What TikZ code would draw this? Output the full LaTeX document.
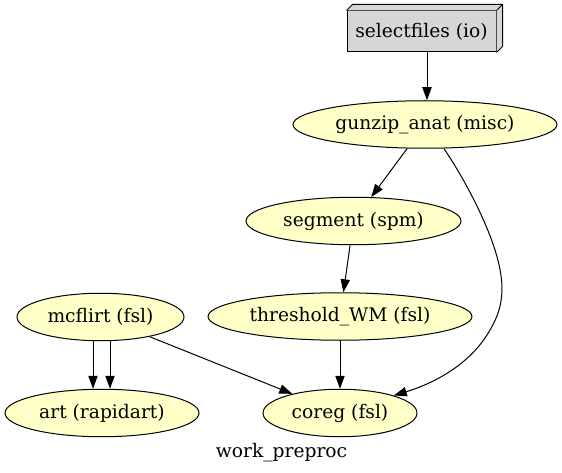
\documentclass[tikz,border=0pt]{standalone}
\usepackage{fontspec}
\setmainfont{DejaVu Serif}
\usetikzlibrary{shapes.geometric,arrows.meta,calc}
\definecolor{nodefill}{HTML}{FFFFC8}
\definecolor{boxfill}{HTML}{D6D6D6}
\tikzset{
  lbl/.style={font=\fontsize{18.67}{22}\selectfont},
  proc/.style={ellipse, draw, fill=nodefill, inner sep=0pt, line width=1pt, minimum height=47.5pt, lbl},
  iobox/.style={rectangle, draw, fill=boxfill, inner sep=0pt, line width=1pt, minimum height=41pt, lbl},
  arr/.style={-{Triangle[length=13pt,width=9.3pt]}, line width=1pt},
}
\begin{document}
\begin{tikzpicture}[x=1pt,y=-1pt]
\useasboundingbox (0,0) rectangle (562,473);
\node[iobox, minimum width=149pt] (sel) at (421.5,31.5) {selectfiles (io)};
\fill[boxfill] (sel.north west) -- ++(6,-6) -- ($(sel.north east)+(6,-6)$) -- ($(sel.south east)+(6,-6)$) -- (sel.south east) -- (sel.north east) -- cycle;
\draw[line width=1pt, line join=round] (sel.north west) -- ++(6,-6) -- ($(sel.north east)+(6,-6)$) -- ($(sel.south east)+(6,-6)$) -- (sel.south east);
\draw[line width=1pt] (sel.north east) -- ++(6,-6);
\node[proc, minimum width=264pt] (gun) at (425,124.5) {gunzip\_anat (misc)};
\node[proc, minimum width=215pt] (seg) at (353.5,221) {segment (spm)};
\node[proc, minimum width=264pt] (thr) at (340,316.5) {threshold\_WM (fsl)};
\node[proc, minimum width=167pt] (mcf) at (100.5,317) {mcflirt (fsl)};
\node[proc, minimum width=194pt] (art) at (102,413) {art (rapidart)};
\node[proc, minimum width=154pt] (cor) at (340,413) {coreg (fsl)};
\node[lbl, anchor=base, inner sep=0pt] (title) at (281.5,457) {work\_preproc};
\draw[arr] ([xshift=5.5pt]sel.south) -- ([xshift=2pt]gun.north);
\draw[arr] (gun) -- (seg);
\draw[arr] (seg) -- (thr);
\draw[arr] (thr) -- (cor);
\draw[arr] (mcf) -- (cor);
\draw[arr] ([xshift=-7.5pt]mcf.south) -- ([xshift=-9pt]art.north);
\draw[arr] ([xshift=9.5pt]mcf.south) -- ([xshift=8pt]art.north);
\draw[arr] ([xshift=19pt]gun.south) .. controls (460,172) and (484,215) .. (495,250)
  .. controls (505,282) and (505,305) .. (490,330)
  .. controls (472,362) and (438,382) .. (cor.18);
\end{tikzpicture}
\end{document}
